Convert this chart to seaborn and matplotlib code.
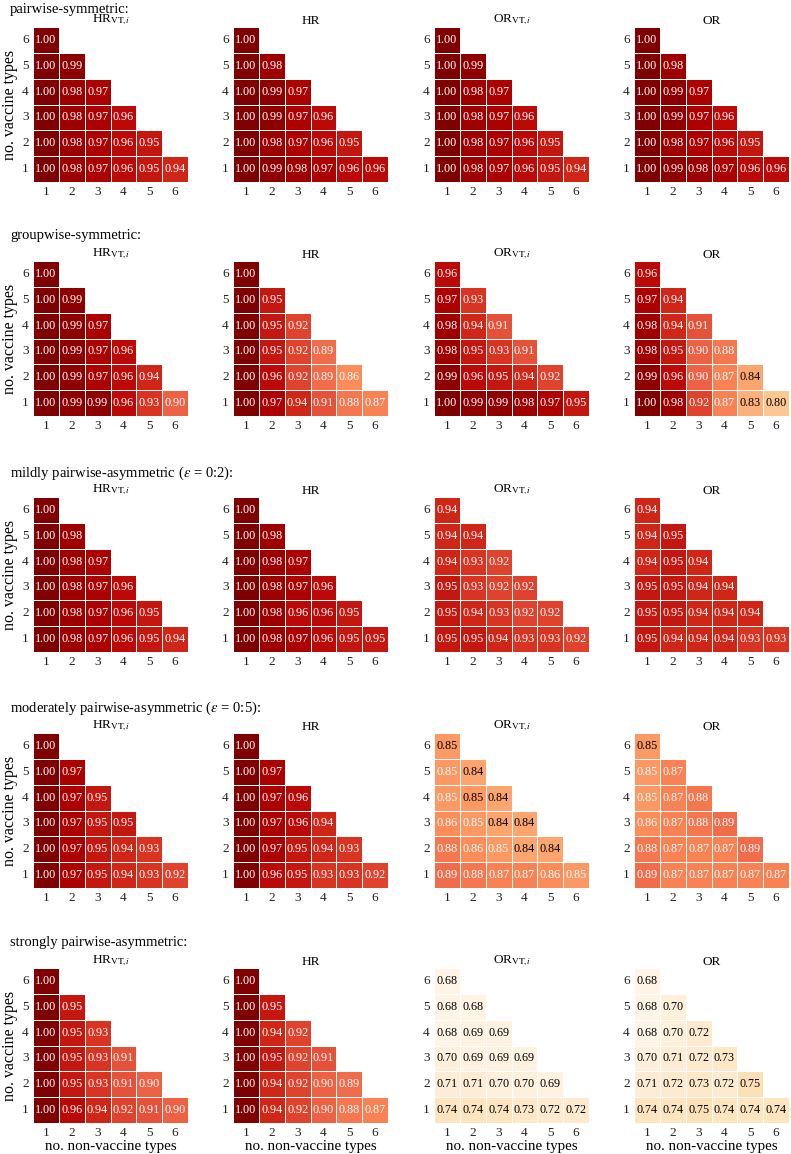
import matplotlib

matplotlib.use("Agg")

import matplotlib.pyplot as plt
from matplotlib.colors import PowerNorm
import numpy as np
import pandas as pd
import seaborn as sns

# axis categories
non_vaccine_types = [1, 2, 3, 4, 5, 6]
vaccine_types = [6, 5, 4, 3, 2, 1]  # top row first

scenario_titles = [
    "pairwise-symmetric:",
    "groupwise-symmetric:",
    r"mildly pairwise-asymmetric ($\epsilon$ = 0:2):",
    r"moderately pairwise-asymmetric ($\epsilon$ = 0:5):",
    "strongly pairwise-asymmetric:",
]
panel_titles = [r"HR$_{\mathrm{VT},\!i}$", "HR", r"OR$_{\mathrm{VT},\!i}$", "OR"]

# each panel: one list per vaccine-type row, 6 (top) down to 1 (bottom)
pw_sym_hr_vt = [[1.00], [1.00, 0.99], [1.00, 0.98, 0.97], [1.00, 0.98, 0.97, 0.96],
                [1.00, 0.98, 0.97, 0.96, 0.95], [1.00, 0.98, 0.97, 0.96, 0.95, 0.94]]
pw_sym_hr = [[1.00], [1.00, 0.98], [1.00, 0.99, 0.97], [1.00, 0.99, 0.97, 0.96],
             [1.00, 0.98, 0.97, 0.96, 0.95], [1.00, 0.99, 0.98, 0.97, 0.96, 0.96]]
pw_sym_or_vt = [[1.00], [1.00, 0.99], [1.00, 0.98, 0.97], [1.00, 0.98, 0.97, 0.96],
                [1.00, 0.98, 0.97, 0.96, 0.95], [1.00, 0.98, 0.97, 0.96, 0.95, 0.94]]
pw_sym_or = [[1.00], [1.00, 0.98], [1.00, 0.99, 0.97], [1.00, 0.99, 0.97, 0.96],
             [1.00, 0.98, 0.97, 0.96, 0.95], [1.00, 0.99, 0.98, 0.97, 0.96, 0.96]]

gw_sym_hr_vt = [[1.00], [1.00, 0.99], [1.00, 0.99, 0.97], [1.00, 0.99, 0.97, 0.96],
                [1.00, 0.99, 0.97, 0.96, 0.94], [1.00, 0.99, 0.99, 0.96, 0.93, 0.90]]
gw_sym_hr = [[1.00], [1.00, 0.95], [1.00, 0.95, 0.92], [1.00, 0.95, 0.92, 0.89],
             [1.00, 0.96, 0.92, 0.89, 0.86], [1.00, 0.97, 0.94, 0.91, 0.88, 0.87]]
gw_sym_or_vt = [[0.96], [0.97, 0.93], [0.98, 0.94, 0.91], [0.98, 0.95, 0.93, 0.91],
                [0.99, 0.96, 0.95, 0.94, 0.92], [1.00, 0.99, 0.99, 0.98, 0.97, 0.95]]
gw_sym_or = [[0.96], [0.97, 0.94], [0.98, 0.94, 0.91], [0.98, 0.95, 0.90, 0.88],
             [0.99, 0.96, 0.90, 0.87, 0.84], [1.00, 0.98, 0.92, 0.87, 0.83, 0.80]]

mild_hr_vt = [[1.00], [1.00, 0.98], [1.00, 0.98, 0.97], [1.00, 0.98, 0.97, 0.96],
              [1.00, 0.98, 0.97, 0.96, 0.95], [1.00, 0.98, 0.97, 0.96, 0.95, 0.94]]
mild_hr = [[1.00], [1.00, 0.98], [1.00, 0.98, 0.97], [1.00, 0.98, 0.97, 0.96],
           [1.00, 0.98, 0.96, 0.96, 0.95], [1.00, 0.98, 0.97, 0.96, 0.95, 0.95]]
mild_or_vt = [[0.94], [0.94, 0.94], [0.94, 0.93, 0.92], [0.95, 0.93, 0.92, 0.92],
              [0.95, 0.94, 0.93, 0.92, 0.92], [0.95, 0.95, 0.94, 0.93, 0.93, 0.92]]
mild_or = [[0.94], [0.94, 0.95], [0.94, 0.95, 0.94], [0.95, 0.95, 0.94, 0.94],
           [0.95, 0.95, 0.94, 0.94, 0.94], [0.95, 0.94, 0.94, 0.94, 0.93, 0.93]]

mod_hr_vt = [[1.00], [1.00, 0.97], [1.00, 0.97, 0.95], [1.00, 0.97, 0.95, 0.95],
             [1.00, 0.97, 0.95, 0.94, 0.93], [1.00, 0.97, 0.95, 0.94, 0.93, 0.92]]
mod_hr = [[1.00], [1.00, 0.97], [1.00, 0.97, 0.96], [1.00, 0.97, 0.96, 0.94],
          [1.00, 0.97, 0.95, 0.94, 0.93], [1.00, 0.96, 0.95, 0.93, 0.93, 0.92]]
mod_or_vt = [[0.849], [0.85, 0.84], [0.85, 0.849, 0.84], [0.86, 0.85, 0.84, 0.84],
             [0.88, 0.86, 0.85, 0.84, 0.84], [0.89, 0.88, 0.87, 0.87, 0.86, 0.85]]
mod_or = [[0.849], [0.85, 0.87], [0.85, 0.87, 0.88], [0.86, 0.87, 0.88, 0.89],
          [0.88, 0.87, 0.87, 0.87, 0.89], [0.89, 0.87, 0.87, 0.87, 0.87, 0.87]]

strong_hr_vt = [[1.00], [1.00, 0.95], [1.00, 0.95, 0.93], [1.00, 0.95, 0.93, 0.91],
                [1.00, 0.95, 0.93, 0.91, 0.90], [1.00, 0.96, 0.94, 0.92, 0.91, 0.90]]
strong_hr = [[1.00], [1.00, 0.95], [1.00, 0.94, 0.92], [1.00, 0.95, 0.92, 0.91],
             [1.00, 0.94, 0.92, 0.90, 0.89], [1.00, 0.94, 0.92, 0.90, 0.88, 0.87]]
strong_or_vt = [[0.68], [0.68, 0.68], [0.68, 0.69, 0.69], [0.70, 0.69, 0.69, 0.69],
                [0.71, 0.71, 0.70, 0.70, 0.69], [0.74, 0.74, 0.74, 0.73, 0.72, 0.72]]
strong_or = [[0.68], [0.68, 0.70], [0.68, 0.70, 0.72], [0.70, 0.71, 0.72, 0.73],
             [0.71, 0.72, 0.73, 0.72, 0.75], [0.74, 0.74, 0.75, 0.74, 0.74, 0.74]]

panels = [
    [pw_sym_hr_vt, pw_sym_hr, pw_sym_or_vt, pw_sym_or],
    [gw_sym_hr_vt, gw_sym_hr, gw_sym_or_vt, gw_sym_or],
    [mild_hr_vt, mild_hr, mild_or_vt, mild_or],
    [mod_hr_vt, mod_hr, mod_or_vt, mod_or],
    [strong_hr_vt, strong_hr, strong_or_vt, strong_or],
]


def to_frame(rows):
    grid = np.full((len(vaccine_types), len(non_vaccine_types)), np.nan)
    for i, row in enumerate(rows):
        grid[i, : len(row)] = row
    return pd.DataFrame(grid, index=vaccine_types, columns=non_vaccine_types)


plt.rcParams["font.family"] = ["Liberation Serif", "DejaVu Serif"]
plt.rcParams["mathtext.fontset"] = "stix"

W, H = 791, 1154
fig = plt.figure(figsize=(W / 100, H / 100), dpi=100)

col_left = [33, 233, 434, 634]
row_top = [27, 261, 497, 733, 968]
title_base = [13, 239, 477, 712, 946]
size = 155

for r, row_panels in enumerate(panels):
    fig.text(10 / W, 1 - title_base[r] / H, scenario_titles[r],
             fontsize=10.5, va="baseline", ha="left")
    for c, rows in enumerate(row_panels):
        ax = fig.add_axes([col_left[c] / W, 1 - (row_top[r] + size) / H,
                           size / W, size / H])
        df = to_frame(rows)
        sns.heatmap(
            df,
            ax=ax,
            cmap="OrRd",
            norm=PowerNorm(gamma=1.3, vmin=0.66, vmax=1.0),
            annot=True,
            fmt=".2f",
            annot_kws={"fontsize": 8.7},
            linewidths=0.5,
            linecolor="white",
            cbar=False,
        )
        # light cells get dark text
        vals = [v for v in df.values.flatten() if not np.isnan(v)]
        for txt, v in zip(ax.texts, vals):
            txt.set_color("black" if v < 0.85 else "white")
        ax.set_title(panel_titles[c], fontsize=9.5, pad=1.5)
        ax.tick_params(length=0, pad=3, labelsize=9.5, labelcolor="#222222")
        plt.setp(ax.get_yticklabels(), rotation=0)
        plt.setp(ax.get_xticklabels(), rotation=0)
        if c == 0:
            ax.set_ylabel("no. vaccine types", fontsize=11.5, labelpad=3)
        if r == len(panels) - 1:
            ax.set_xlabel("no. non-vaccine types", fontsize=10.8, labelpad=0.5)

fig.savefig("out.png", dpi=100)
